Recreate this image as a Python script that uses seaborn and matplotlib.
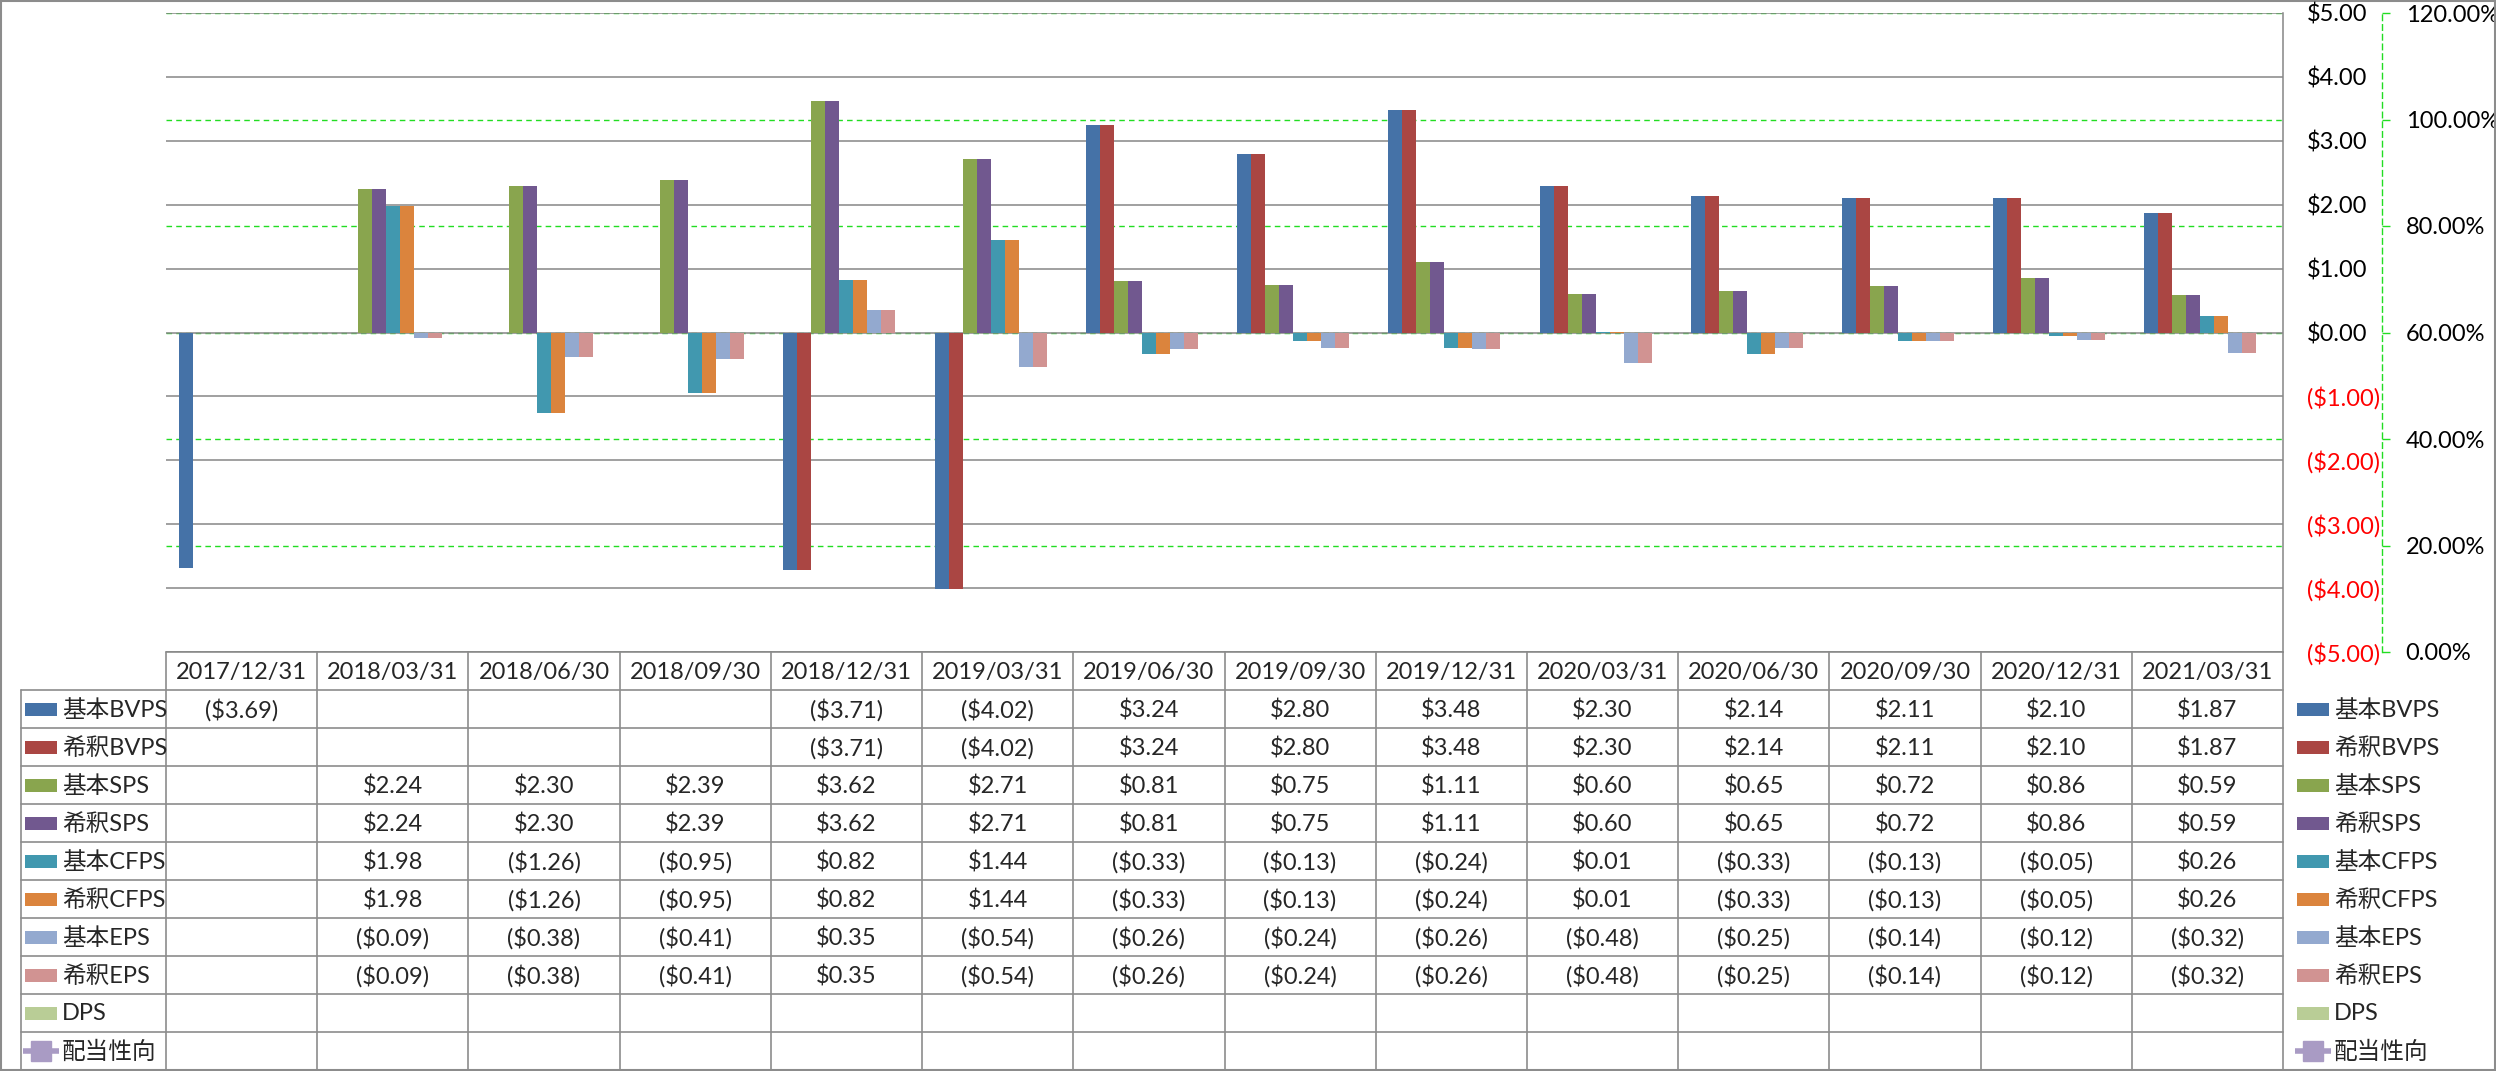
import numpy as np
import pandas as pd
import matplotlib
matplotlib.use('Agg')
import matplotlib.pyplot as plt
import seaborn as sns
from matplotlib.patches import Rectangle
from matplotlib.lines import Line2D

nan = np.nan

dates = ['2017/12/31', '2018/03/31', '2018/06/30', '2018/09/30', '2018/12/31',
         '2019/03/31', '2019/06/30', '2019/09/30', '2019/12/31', '2020/03/31',
         '2020/06/30', '2020/09/30', '2020/12/31', '2021/03/31']

bar_series = ['基本BVPS', '希釈BVPS', '基本SPS', '希釈SPS', '基本CFPS',
              '希釈CFPS', '基本EPS', '希釈EPS', 'DPS']

basic_bvps = [-3.69, nan, nan, nan, -3.71, -4.02, 3.24, 2.80, 3.48, 2.30, 2.14, 2.11, 2.10, 1.87]
dil_bvps = [nan, nan, nan, nan, -3.71, -4.02, 3.24, 2.80, 3.48, 2.30, 2.14, 2.11, 2.10, 1.87]
basic_sps = [nan, 2.24, 2.30, 2.39, 3.62, 2.71, 0.81, 0.75, 1.11, 0.60, 0.65, 0.72, 0.86, 0.59]
dil_sps = [nan, 2.24, 2.30, 2.39, 3.62, 2.71, 0.81, 0.75, 1.11, 0.60, 0.65, 0.72, 0.86, 0.59]
basic_cfps = [nan, 1.98, -1.26, -0.95, 0.82, 1.44, -0.33, -0.13, -0.24, 0.01, -0.33, -0.13, -0.05, 0.26]
dil_cfps = [nan, 1.98, -1.26, -0.95, 0.82, 1.44, -0.33, -0.13, -0.24, 0.01, -0.33, -0.13, -0.05, 0.26]
basic_eps = [nan, -0.09, -0.38, -0.41, 0.35, -0.54, -0.26, -0.24, -0.26, -0.48, -0.25, -0.14, -0.12, -0.32]
dil_eps = [nan, -0.09, -0.38, -0.41, 0.35, -0.54, -0.26, -0.24, -0.26, -0.48, -0.25, -0.14, -0.12, -0.32]
dps = [nan] * 14
payout_ratio = [nan] * 14

bar_values = [basic_bvps, dil_bvps, basic_sps, dil_sps, basic_cfps,
              dil_cfps, basic_eps, dil_eps, dps]

colors = ['#4572A7', '#AA4643', '#89A54E', '#71588F', '#4198AF',
          '#DB843D', '#93A9CF', '#D19392', '#B9CD96']
line_color = '#A99BC4'

usd_ticks = list(range(-5, 6))
pct_ticks = [0.0, 0.2, 0.4, 0.6, 0.8, 1.0, 1.2]

# long-form data
rows = []
for name, vals in zip(bar_series, bar_values):
    for d, v in zip(dates, vals):
        if not np.isnan(v):
            rows.append({'date': d, 'series': name, 'value': v})
df = pd.DataFrame(rows)

sns.set_theme(style='white')
plt.rcParams['font.family'] = ['Lato', 'Noto Sans CJK JP', 'DejaVu Sans']
FS = 17

W, H = 2496, 1071
fig = plt.figure(figsize=(W / 100, H / 100), dpi=100)
L, R, T, B = 166, 2283, 13, 652
ax = fig.add_axes([L / W, 1 - B / H, (R - L) / W, (B - T) / H])

ncat = len(dates)
colw = (R - L) / ncat
sns.barplot(data=df, x='date', y='value', hue='series', order=dates,
            hue_order=bar_series, palette=dict(zip(bar_series, colors)),
            width=126 / colw, saturation=1, linewidth=0, errorbar=None,
            legend=False, dodge=True, ax=ax)

ax.set_xlim(-0.5, ncat - 0.5)
ax.set_ylim(-5, 5)
ax.set_xticks([])
ax.set_xlabel('')
ax.set_ylabel('')


def usd(v):
    return f'${v:.2f}' if v >= 0 else f'(${-v:.2f})'


# secondary axis
ax2 = ax.twinx()
ax2.set_ylim(0, 1.2)
ax2.set_yticks(pct_ticks)
ax2.set_yticklabels([f'{v * 100:.2f}%' for v in pct_ticks])
ax2.grid(True, axis='y', color='#22DD22', ls=(0, (4, 3)), lw=1.0)
for s in ['left', 'top', 'bottom']:
    ax2.spines[s].set_visible(False)
ax2.spines['right'].set_position(('outward', 71.3))
ax2.spines['right'].set_color('#22DD22')
ax2.spines['right'].set_linestyle((0, (4, 3)))
ax2.spines['right'].set_linewidth(1.0)
ax2.tick_params(axis='y', length=6, width=1, color='#22DD22', labelcolor='black',
                pad=11, labelsize=FS, direction='out')
ax2.set_ylabel('')
ax.set_zorder(ax2.get_zorder() + 1)
ax.patch.set_visible(False)

# primary axis labels on the right side
ax.set_yticks(usd_ticks)
ax.set_yticklabels([usd(v) for v in usd_ticks])
ax.yaxis.tick_right()
ax.yaxis.set_label_position('right')
ax.tick_params(axis='y', left=False, labelleft=False, right=True, labelright=True,
               length=0, pad=17, labelsize=FS)
for lab, v in zip(ax.get_yticklabels(), usd_ticks):
    lab.set_color('#FF0000' if v < 0 else 'black')
ax.grid(axis='y', color='#868686', lw=1.1)
ax.grid(axis='x', visible=False)
ax.set_axisbelow(True)
for s in ['left', 'top', 'bottom']:
    ax.spines[s].set_visible(False)
ax.spines['right'].set_color('#868686')
ax.spines['right'].set_linewidth(1.1)

# data table overlay
tx = fig.add_axes([0, 0, 1, 1])
tx.set_xlim(0, W)
tx.set_ylim(H, 0)
tx.axis('off')

gc = '#8C8C8C'
lw = 1.2
edges = np.linspace(L, R, ncat + 1)
hdr_top, row0 = 652, 690
rh = 38
legend_left = 21
table_rows = bar_series + ['配当性向']
table_vals = bar_values + [payout_ratio]
nrows = len(table_rows)
bottom = row0 + nrows * rh

# horizontal lines
tx.plot([L, R], [hdr_top, hdr_top], color=gc, lw=lw)
for k in range(nrows + 1):
    y = row0 + k * rh
    tx.plot([legend_left, R], [y, y], color=gc, lw=lw)
# vertical lines
for e in edges:
    tx.plot([e, e], [hdr_top, bottom], color=gc, lw=lw)
tx.plot([legend_left, legend_left], [row0, bottom], color=gc, lw=lw)

# header
for i, d in enumerate(dates):
    tx.text((edges[i] + edges[i + 1]) / 2, (hdr_top + row0) / 2 + 1, d,
            ha='center', va='center', fontsize=FS)

# rows
for k, (name, vals) in enumerate(zip(table_rows, table_vals)):
    yc = row0 + k * rh + rh / 2
    for i, v in enumerate(vals):
        if not np.isnan(v):
            tx.text((edges[i] + edges[i + 1]) / 2, yc + 1, usd(v),
                    ha='center', va='center', fontsize=FS)
    # legend keys in table and on the right
    for kx, tx0 in [(25, 62), (2297, 2334)]:
        if k < len(bar_series):
            tx.add_patch(Rectangle((kx, yc - 6.5), 32, 13, color=colors[k], lw=0))
        else:
            tx.add_line(Line2D([kx - 2, kx + 34], [yc, yc], color=line_color, lw=4,
                               solid_capstyle='butt'))
            tx.add_line(Line2D([kx + 16], [yc], color=line_color, marker='s',
                               markersize=14, lw=0))
        tx.text(tx0, yc + 1, name, ha='left', va='center', fontsize=FS)

# chart border
tx.add_patch(Rectangle((0.8, 0.8), W - 1.6, H - 1.6, fill=False, ec='#8C8C8C', lw=1.5))

fig.savefig('out.png', dpi=100)
